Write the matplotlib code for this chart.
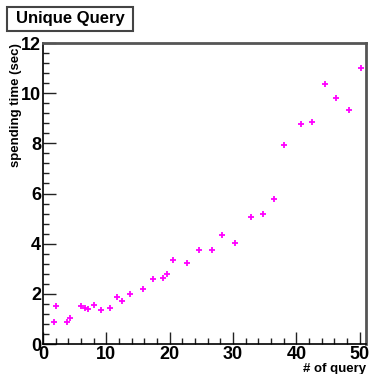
import matplotlib.pyplot as plt
from matplotlib.patches import Rectangle
from matplotlib.ticker import MultipleLocator

plt.rcParams['font.family'] = ['Liberation Sans', 'DejaVu Sans']
plt.rcParams['font.weight'] = 'bold'

# number of queries vs. spending time
n_query = [1.8, 2.1, 3.8, 4.2, 6.0, 6.65, 7.1, 8.1, 9.2, 10.5, 11.7, 12.5, 13.7,
           15.8, 17.3, 19.0, 19.6, 20.5, 22.7, 24.6, 26.7, 28.2, 30.3, 32.9,
           34.8, 36.5, 38.1, 40.7, 42.5, 44.5, 46.3, 48.3, 50.2]
spend_sec = [0.89, 1.51, 0.89, 1.04, 1.51, 1.42, 1.41, 1.57, 1.35, 1.43, 1.89, 1.70, 2.0,
             2.19, 2.58, 2.62, 2.80, 3.36, 3.23, 3.74, 3.73, 4.36, 4.04, 5.06,
             5.19, 5.80, 7.92, 8.79, 8.84, 10.37, 9.79, 9.32, 11.0]

fig = plt.figure(figsize=(3.69, 3.74), dpi=100)
ax = fig.add_axes([0.1165, 0.0802, 0.8755, 0.8048])

ax.plot(n_query, spend_sec, linestyle='none', marker='+', ms=3.8, mew=1.3, color='#ff00ff')

ax.set_xlim(0, 51)
ax.set_ylim(0, 12)
ax.xaxis.set_major_locator(MultipleLocator(10))
ax.xaxis.set_minor_locator(MultipleLocator(2))
ax.yaxis.set_major_locator(MultipleLocator(2))
ax.yaxis.set_minor_locator(MultipleLocator(0.4))
ax.tick_params(which='both', direction='in', top=False, right=False, width=1, color='#222222')
ax.tick_params(which='major', length=9, labelsize=13, pad=1.5)
ax.tick_params(which='minor', length=4.5)
for lab in ax.get_xticklabels() + ax.get_yticklabels():
    lab.set_fontweight('bold')

# frame: black left/bottom, grey thick top/right
ax.spines['left'].set_color('black')
ax.spines['bottom'].set_color('black')
ax.spines['left'].set_linewidth(1.2)
ax.spines['bottom'].set_linewidth(1.2)
ax.spines['top'].set_color('#555555')
ax.spines['right'].set_color('#555555')
ax.spines['top'].set_linewidth(2)
ax.spines['right'].set_linewidth(2)

ax.set_xlabel('# of query', fontsize=9.5, fontweight='bold', loc='right', labelpad=0)
ax.set_ylabel('spending time (sec)', fontsize=9.5, fontweight='bold', loc='top', labelpad=-1)

# title box
fig.patches.append(Rectangle((7 / 369, 1 - 31 / 374), 126 / 369, 24 / 374,
                             transform=fig.transFigure, facecolor='white',
                             edgecolor='#444444', linewidth=1.5))
fig.text(70 / 369, 1 - 19 / 374, 'Unique Query', ha='center', va='center',
         fontsize=12, fontweight='bold')

fig.savefig('out.png', dpi=100)
